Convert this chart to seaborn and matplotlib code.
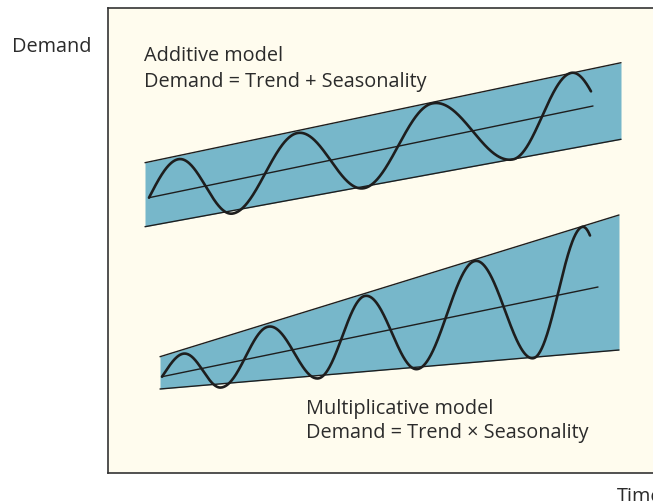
import numpy as np
import pandas as pd
import matplotlib
matplotlib.use("Agg")
import matplotlib.pyplot as plt
import seaborn as sns

# ---- data (x = time, y = demand; arbitrary units) ----
# Additive model
add_band_x = [145, 621]
add_band_top = [338.3, 438.3]
add_band_bottom = [274.3, 361.7]
add_trend_x = [149, 593]
add_trend_y = [303.3, 395.0]
add_extrema_x = [149, 178, 233, 297, 364, 432, 513, 571, 591]
add_extrema_q = [0, 1, 3, 5, 7, 9, 11, 13, 13.74]   # seasonal phase, quarter cycles

# Multiplicative model
mul_band_x = [160, 619]
mul_band_top = [144.3, 286.0]
mul_band_bottom = [112.0, 151.0]
mul_trend_x = [162, 598]
mul_trend_y = [124.3, 214.0]
mul_extrema_x = [162, 182, 221, 267, 318, 364, 417, 474, 533, 582, 590]
mul_extrema_q = [0, 1, 3, 5, 7, 9, 11, 13, 15, 17, 17.38]

add_labels = ["Additive model", "Demand = Trend + Seasonality"]
mul_labels = ["Multiplicative model", "Demand = Trend \u00d7 Seasonality"]
y_label = "Demand"
x_label = "Time"

BAND = "#77b7ca"
BG = "#fffcee"
INK = "#1e1e1e"
TXT = "#2b2b2b"

sns.set_theme(style="white")
plt.rcParams["font.family"] = ["Open Sans", "DejaVu Sans"]

fig = plt.figure(figsize=(6.53, 5.01), dpi=100)
fig.patch.set_facecolor("white")
ax = fig.add_axes([108 / 653, 28 / 501, 560 / 653, 465 / 501])
ax.set_facecolor(BG)
ax.set_xlim(108, 668)
ax.set_ylim(28, 493)
ax.set_xticks([])
ax.set_yticks([])
for s in ax.spines.values():
    s.set_color("#333333")
    s.set_linewidth(1.2)


def wave(ext_x, ext_q, trend_x, trend_y, band_x, top, bottom):
    x = np.linspace(ext_x[0], ext_x[-1], 800)
    phase = np.interp(x, ext_x, ext_q) * np.pi / 2
    tr = np.interp(x, trend_x, trend_y)
    amp = (np.interp(x, band_x, top) - np.interp(x, band_x, bottom)) / 2
    return pd.DataFrame({"x": x, "y": tr + amp * np.sin(phase)})


for bx, bt, bb, tx, ty, ex, eq in [
    (add_band_x, add_band_top, add_band_bottom, add_trend_x, add_trend_y, add_extrema_x, add_extrema_q),
    (mul_band_x, mul_band_top, mul_band_bottom, mul_trend_x, mul_trend_y, mul_extrema_x, mul_extrema_q),
]:
    ax.fill_between(bx, bb, bt, color=BAND, linewidth=0, zorder=1)
    sns.lineplot(x=bx, y=bt, ax=ax, color=INK, linewidth=1.0, zorder=2)
    sns.lineplot(x=bx, y=bb, ax=ax, color=INK, linewidth=1.0, zorder=2)
    sns.lineplot(x=tx, y=ty, ax=ax, color=INK, linewidth=1.0, zorder=2)
    w = wave(ex, eq, tx, ty, bx, bt, bb)
    sns.lineplot(data=w, x="x", y="y", ax=ax, sort=False, color=INK,
                 linewidth=1.9, zorder=3)

fs = 14.3
ax.text(144, 440, add_labels[0], fontsize=fs, color=TXT, va="baseline", ha="left")
ax.text(144, 414.3, add_labels[1], fontsize=fs, color=TXT, va="baseline", ha="left")
ax.text(306, 86.7, mul_labels[0], fontsize=fs, color=TXT, va="baseline", ha="left")
ax.text(306, 62.7, mul_labels[1], fontsize=fs, color=TXT, va="baseline", ha="left")
ax.text(12, 449.3, y_label, fontsize=fs, color=TXT, va="baseline", ha="left", clip_on=False)
ax.text(617, -0.5, x_label, fontsize=fs, color=TXT, va="baseline", ha="left", clip_on=False)

ax.set_xlabel("")
ax.set_ylabel("")
fig.savefig("out.png", dpi=100, facecolor="white")
